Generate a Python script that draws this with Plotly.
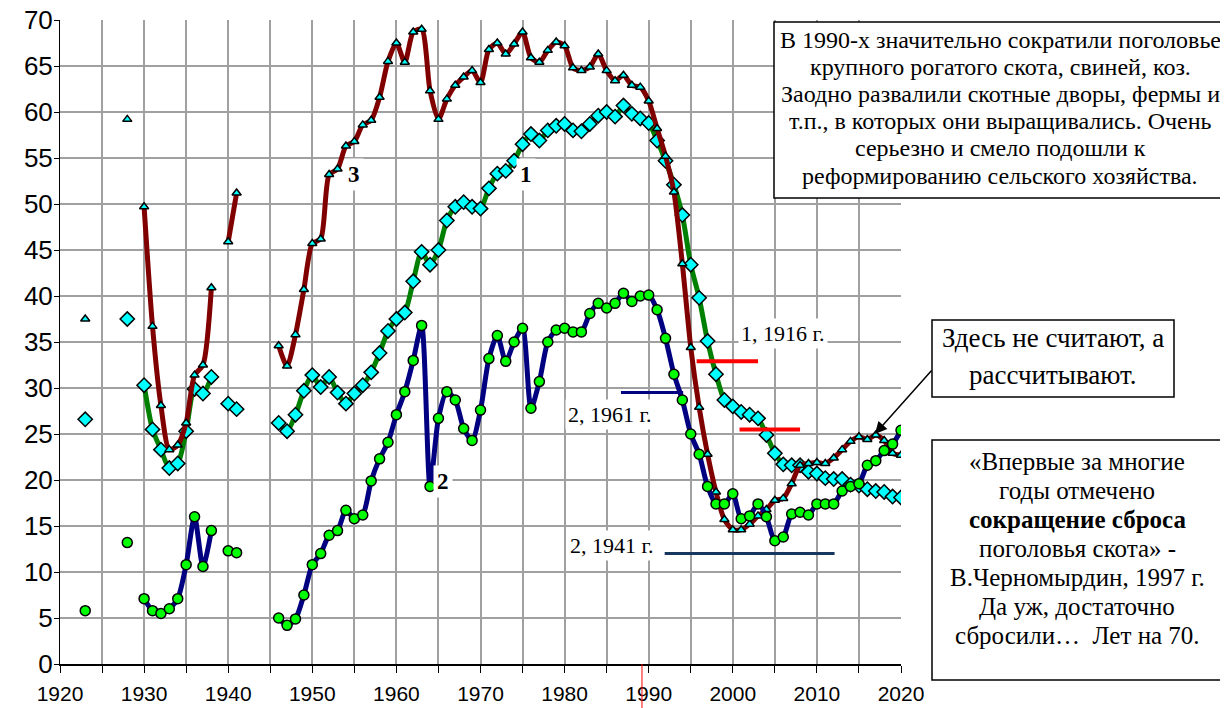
import plotly.graph_objects as go

# ---------------- data ----------------
years_pre = [1923, 1928, 1930, 1931, 1932, 1933, 1934, 1935, 1936, 1937, 1938, 1940, 1941]
s1_pre = [26.6, 37.5, 30.3, 25.5, 23.3, 21.3, 21.8, 25.3, 29.9, 29.4, 31.2, 28.3, 27.7]
s2_pre = [5.8, 13.2, 7.1, 5.8, 5.5, 6.0, 7.1, 10.8, 16.0, 10.6, 14.5, 12.3, 12.1]
s3_pre = [37.5, 59.2, 49.7, 36.7, 28.1, 23.3, 23.8, 26.2, 31.4, 32.5, 40.9, 45.9, 51.2]

years_post = list(range(1946, 2021))
s1_post = [26.2, 25.3, 27.1, 29.7, 31.4, 30.1, 31.2, 29.5, 28.3, 29.4,
           30.3, 31.7, 33.8, 36.2, 37.5, 38.2, 41.6, 44.8, 43.4, 45.0,
           48.2, 49.7, 50.2, 49.7, 49.5, 51.7, 53.3, 53.6, 54.7, 56.5,
           57.6, 56.9, 58.0, 58.5, 58.7, 58.0, 57.9, 58.7, 59.6, 60.0,
           59.5, 60.7, 59.8, 59.3, 58.8, 56.9, 54.7, 52.1, 48.8, 43.4,
           39.8, 35.1, 31.5, 28.7, 28.0, 27.4, 27.1, 26.7, 24.9, 22.9,
           21.7, 21.6, 21.6, 20.9, 20.7, 20.2, 20.1, 20.1, 19.5, 19.4,
           19.0, 18.8, 18.7, 18.2, 18.1]
s2_post = [5.0, 4.2, 4.9, 7.5, 10.8, 12.0, 14.0, 14.5, 16.7, 15.8,
           16.2, 19.9, 22.3, 24.1, 27.1, 29.6, 33.0, 36.8, 19.3, 26.7,
           29.6, 28.7, 25.6, 24.3, 27.6, 33.2, 35.7, 32.9, 35.0, 36.5,
           27.8, 30.7, 35.0, 36.3, 36.5, 36.1, 36.1, 38.1, 39.2, 38.7,
           39.2, 40.3, 39.4, 40.0, 40.1, 38.5, 35.4, 31.5, 28.7, 25.0,
           22.8, 19.3, 17.4, 17.4, 18.5, 15.8, 16.1, 17.4, 16.0, 13.4,
           13.8, 16.3, 16.5, 16.2, 17.4, 17.4, 17.4, 18.8, 19.3, 19.6,
           21.6, 22.1, 23.2, 23.9, 25.4]
s3_post = [34.6, 32.4, 35.8, 40.7, 45.7, 46.2, 53.2, 53.8, 56.3, 56.8,
           58.6, 59.1, 61.6, 65.5, 67.5, 65.4, 68.7, 69.0, 62.3, 59.2,
           61.4, 62.9, 63.8, 64.5, 63.2, 66.8, 67.5, 66.3, 67.4, 68.7,
           65.9, 65.4, 66.7, 67.6, 67.2, 64.8, 64.5, 64.9, 66.3, 64.5,
           63.4, 64.0, 62.9, 62.7, 61.2, 58.2, 55.2, 51.3, 43.5, 34.4,
           27.9, 22.8, 18.7, 15.7, 14.6, 14.6, 15.2, 16.1, 16.8, 17.8,
           18.0, 19.6, 21.6, 21.8, 21.9, 21.8, 22.4, 23.3, 24.2, 24.7,
           24.4, 24.9, 24.3, 22.9, 22.7]

# year ranges joined by a line (other points are markers only)
segments_1 = [(1930, 1938), (1946, 2020)]
segments_2 = [(1930, 1938), (1946, 2020)]
segments_3 = [(1930, 1938), (1940, 1941), (1946, 2020)]

# reference levels
ref_1916_a = 32.9
ref_1916_b = 25.5
ref_1961 = 29.5
ref_1941 = 12.0

x_ticks = list(range(1920, 2021, 5))
x_tick_text = [str(y) if y % 10 == 0 else "" for y in x_ticks]

box1_lines = ["В 1990-х значительно сократили поголовье",
              "крупного рогатого скота, свиней, коз.",
              "Заодно развалили скотные дворы, фермы и",
              "т.п., в которых они выращивались. Очень",
              "серьезно и смело подошли к",
              "реформированию сельского хозяйства."]
box2_lines = ["Здесь не считают, а", "рассчитывают."]
box3_lines = ["«Впервые за многие", "годы отмечено", "<b>сокращение сброса</b>",
              "поголовья скота» -", "В.Черномырдин, 1997 г.", "Да уж, достаточно",
              "сбросили…  Лет на 70."]

# --------------- helpers ---------------
years_all = years_pre + years_post


def line_xy(values, segments):
    xs, ys = [], []
    for a, b in segments:
        for yr, v in zip(years_all, values):
            if a <= yr <= b:
                xs.append(yr)
                ys.append(v)
        xs.append(None)
        ys.append(None)
    return xs, ys


SERIF = "Liberation Serif"
SANS = "Liberation Sans Narrow, Liberation Sans, Arial, sans-serif"

# page body has an 8px margin; screen coords -> figure coords
OFF = 8
SCR_L, SCR_T = 60, 20          # plot area top-left on screen
PW, PH = 841, 644
FIG_W, FIG_H = 1228, 708
ML, MT = SCR_L - OFF, SCR_T - OFF


def px(sx):
    return (sx - SCR_L) / PW


def py(sy):
    return 1 - (sy - SCR_T) / PH


fig = go.Figure()

series = [
    ("1", s1_pre + s1_post, segments_1, "#008000", "diamond", "#00FFFF", 11),
    ("3", s3_pre + s3_post, segments_3, "#800000", "triangle-up", "#00FFFF", 8),
    ("2", s2_pre + s2_post, segments_2, "#000080", "circle", "#00FF00", 10),
]

for name, vals, segs, lc, sym, mc, ms in series:
    lx, ly = line_xy(vals, segs)
    fig.add_trace(go.Scatter(
        x=lx, y=ly, mode="lines",
        line=dict(color=lc, width=5, shape="spline", smoothing=0.7),
        connectgaps=False, showlegend=False, hoverinfo="skip"))
    fig.add_trace(go.Scatter(
        x=years_all, y=vals, mode="markers",
        marker=dict(symbol=sym, size=ms, color=mc,
                    line=dict(color="black", width=1.5)),
        showlegend=False, name=name))

# reference lines
refs = [
    (ref_1916_a, 1995.7, 2003.0, "#FF0000", 4),
    (ref_1916_b, 2000.8, 2008.0, "#FF0000", 4),
    (ref_1961, 1986.7, 1994.1, "#000080", 3),
    (ref_1941, 1991.9, 2012.1, "#17375E", 3),
]
for val, x0, x1, col, w in refs:
    fig.add_shape(type="line", xref="x", yref="y", x0=x0, x1=x1, y0=val, y1=val,
                  line=dict(color=col, width=w), layer="above")

# red marker line at 1990 below the axis
fig.add_shape(type="line", xref="x", yref="paper", x0=1989.2, x1=1989.2,
              y0=0, y1=-0.07, line=dict(color="#FF0000", width=1))

annotations = []
# series labels
for txt, xx, yy in [("3", 1955.0, 53.2), ("1", 1975.4, 53.2), ("2", 1965.5, 19.8)]:
    annotations.append(dict(x=xx, y=yy, xref="x", yref="y", text="<b>%s</b>" % txt,
                            showarrow=False, bgcolor="white", borderpad=3,
                            font=dict(family=SERIF, size=23, color="black")))
for txt, xx, yy in [("1, 1916 г.", 2006.0, 35.9), ("2, 1961 г.", 1985.4, 27.1),
                    ("2, 1941 г.", 1985.6, 12.9)]:
    annotations.append(dict(x=xx, y=yy, xref="x", yref="y", text=txt,
                            showarrow=False, bgcolor="white", borderpad=2,
                            font=dict(family=SERIF, size=22, color="black")))

# text boxes: (left, top, right, bottom) on screen, line centres, font size
boxes = [
    ((774, 22, 1226, 198), box1_lines, [40, 67, 94, 121, 148, 176], 24),
    ((932, 320, 1174, 397), box2_lines, [338, 375], 27),
    ((932, 440, 1222, 680), box3_lines, [461, 490, 519, 548, 577, 606, 635], 25),
]
for (l, t, r, b), lines, ys, fs in boxes:
    fig.add_shape(type="rect", xref="paper", yref="paper",
                  x0=px(l), x1=px(r), y0=py(b), y1=py(t),
                  line=dict(color="black", width=1.5), fillcolor="white",
                  layer="above")
    cx = (l + r) / 2
    for txt, yy in zip(lines, ys):
        annotations.append(dict(xref="paper", yref="paper", x=px(cx), y=py(yy),
                                xanchor="center", yanchor="middle", text=txt,
                                showarrow=False,
                                font=dict(family=SERIF, size=fs, color="black")))

# arrow from the middle box
annotations.append(dict(
    x=2016.9, y=25.0, xref="x", yref="y", text="", showarrow=True,
    ax=58, ay=-65, axref="pixel", ayref="pixel",
    arrowhead=2, arrowsize=1.6, arrowwidth=1.5, arrowcolor="black"))

fig.update_layout(
    width=FIG_W, height=FIG_H,
    margin=dict(l=ML, r=FIG_W - ML - PW, t=MT, b=FIG_H - MT - PH, autoexpand=False),
    paper_bgcolor="white", plot_bgcolor="white",
    annotations=annotations,
    xaxis=dict(range=[1920, 2020], tickvals=x_ticks, ticktext=x_tick_text,
               automargin=False, ticklabeloverflow="allow",
               showgrid=True, gridcolor="#A0A0A0", gridwidth=1.5,
               ticks="outside", ticklen=7, tickcolor="black", tickwidth=1,
               ticklabelstandoff=3,
               showline=True, linecolor="black", linewidth=2,
               zeroline=False,
               tickfont=dict(family=SANS, size=21, color="black")),
    yaxis=dict(range=[0, 70], dtick=5, tick0=0, automargin=False,
               ticklabeloverflow="allow",
               showgrid=True, gridcolor="#A0A0A0", gridwidth=1.5,
               ticks="outside", ticklen=5, tickcolor="black",
               ticklabelstandoff=-4,
               showline=True, linecolor="black", linewidth=1,
               zeroline=False,
               tickfont=dict(family=SANS, size=26, color="black")),
)

fig.write_html("out.html")
